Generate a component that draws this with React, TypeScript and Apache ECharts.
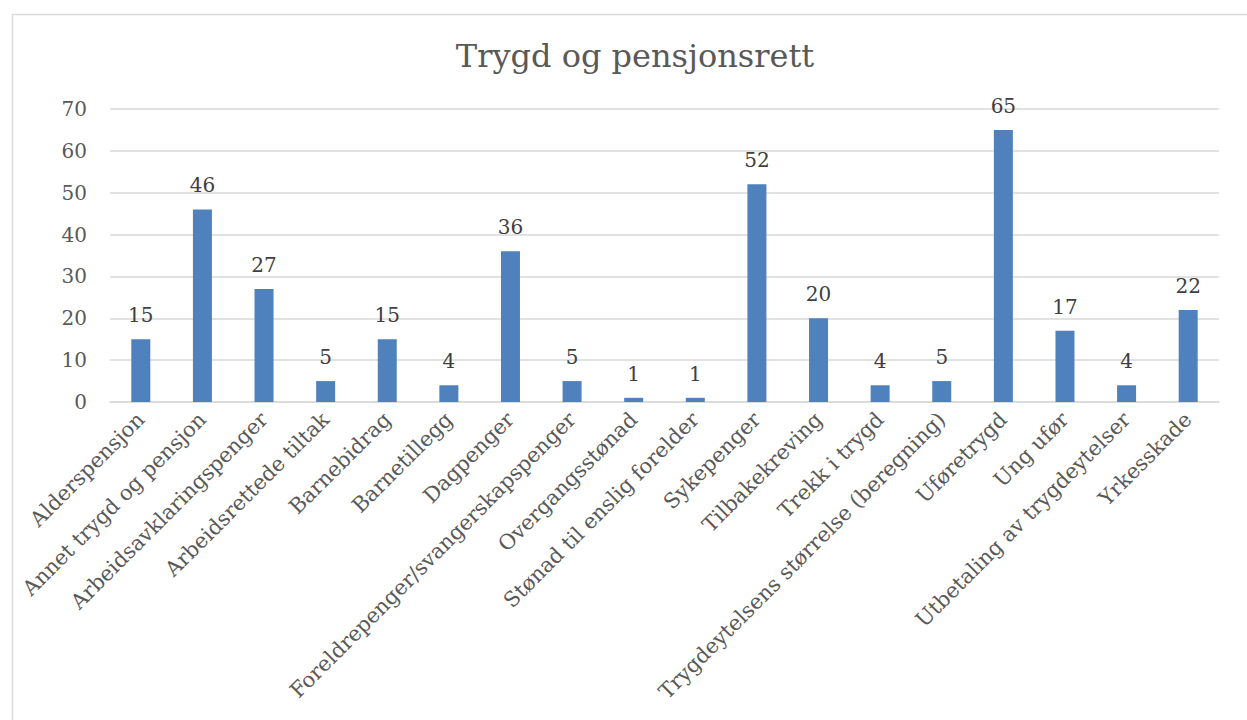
import React, { useEffect, useRef } from "react";
import * as echarts from "echarts";

const TITLE = "Trygd og pensjonsrett";
const categories = [
  "Alderspensjon",
  "Annet trygd og pensjon",
  "Arbeidsavklaringspenger",
  "Arbeidsrettede tiltak",
  "Barnebidrag",
  "Barnetillegg",
  "Dagpenger",
  "Foreldrepenger/svangerskapspenger",
  "Overgangsstønad",
  "Stønad til enslig forelder",
  "Sykepenger",
  "Tilbakekreving",
  "Trekk i trygd",
  "Trygdeytelsens størrelse (beregning)",
  "Uføretrygd",
  "Ung ufør",
  "Utbetaling av trygdeytelser",
  "Yrkesskade",
];
const values = [15, 46, 27, 5, 15, 4, 36, 5, 1, 1, 52, 20, 4, 5, 65, 17, 4, 22];
const yTicks = { min: 0, max: 70, interval: 10 };

const FONT = "'DejaVu Serif', serif";

export default function App() {
  const ref = useRef<HTMLDivElement>(null);
  useEffect(() => {
    if (!ref.current) return;
    const chart = echarts.init(ref.current, undefined, { renderer: "svg" });
    chart.setOption({
      animation: false,
      backgroundColor: "#ffffff",
      textStyle: { fontFamily: FONT },
      title: {
        text: TITLE,
        left: 630,
        top: 35,
        textAlign: "center",
        textStyle: { fontFamily: FONT, fontSize: 32, fontWeight: "normal", color: "#595959" },
      },
      graphic: [
        {
          type: "rect",
          left: 10,
          top: 12,
          shape: { width: 1260, height: 740 },
          style: { fill: "none", stroke: "#d9d9d9", lineWidth: 1.5 },
          z: -1,
        },
      ],
      grid: { left: 110, right: 28, top: 109, bottom: 318, containLabel: false },
      xAxis: {
        type: "category",
        data: categories,
        axisLine: { show: true, lineStyle: { color: "#d9d9d9", width: 1.5 } },
        axisTick: { show: false },
        axisLabel: {
          rotate: 45,
          interval: 0,
          margin: 14,
          fontFamily: FONT,
          fontSize: 21,
          color: "#595959",
        },
      },
      yAxis: {
        type: "value",
        min: yTicks.min,
        max: yTicks.max,
        interval: yTicks.interval,
        axisLine: { show: false },
        axisTick: { show: false },
        splitLine: { lineStyle: { color: "#d9d9d9", width: 1.5 } },
        axisLabel: { fontFamily: FONT, fontSize: 20, color: "#595959", margin: 23 },
      },
      series: [
        {
          type: "bar",
          data: values,
          barWidth: 19,
          itemStyle: { color: "#4f81bd" },
          label: {
            show: true,
            position: "top",
            distance: 14,
            fontFamily: FONT,
            fontSize: 20,
            color: "#404040",
          },
        },
      ],
    });
    return () => chart.dispose();
  }, []);
  return <div ref={ref} style={{ width: 1247, height: 720, position: "absolute", left: 0, top: 0 }} />;
}
